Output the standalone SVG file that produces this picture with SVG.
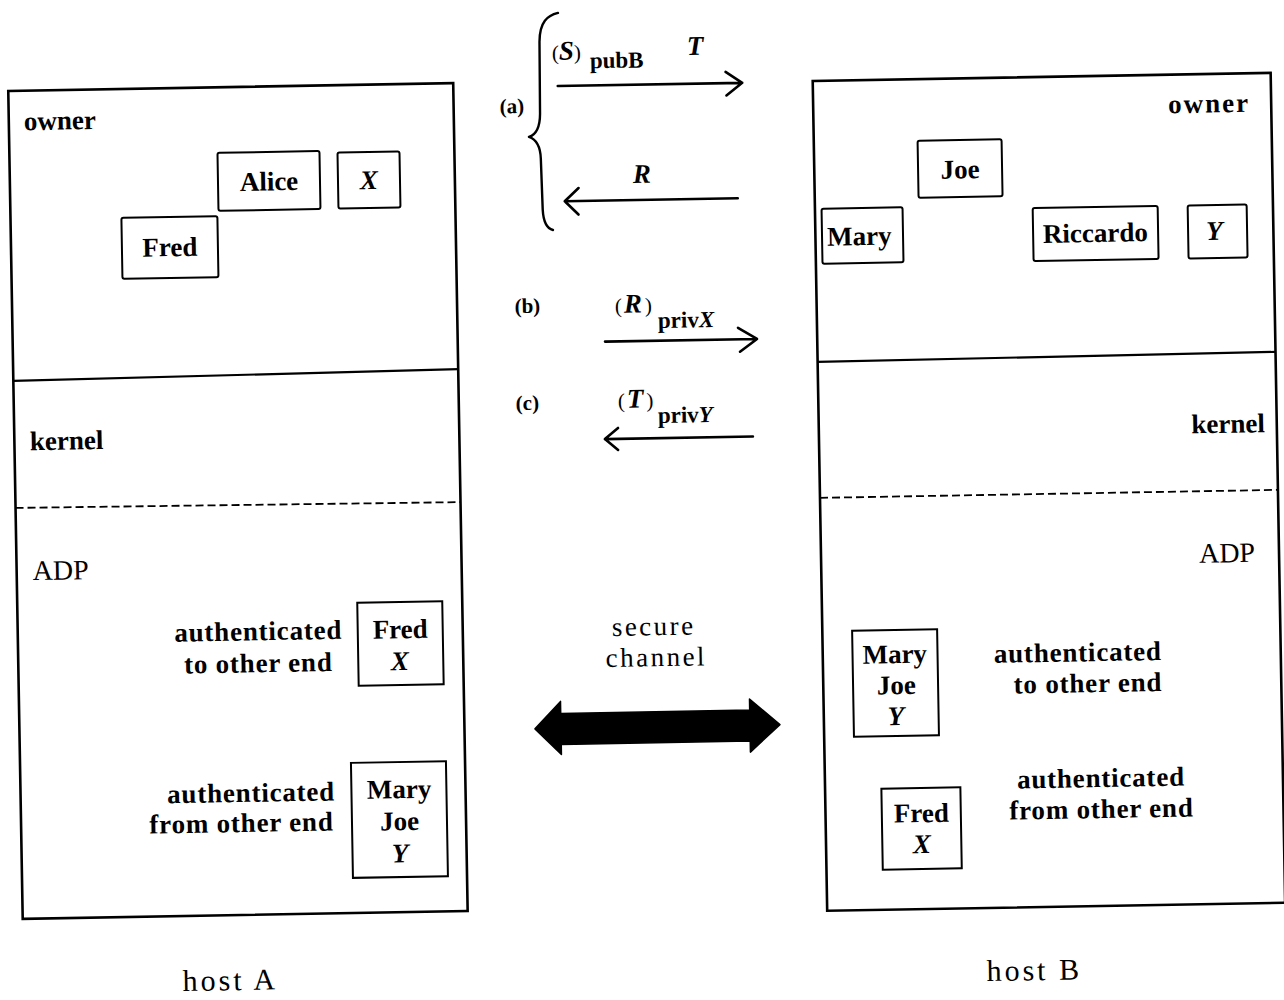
<svg xmlns="http://www.w3.org/2000/svg" width="1284" height="1000" viewBox="0 0 1284 1000">
<style>
.host{fill:none;stroke:#000;stroke-width:2.6}
.div{fill:none;stroke:#000;stroke-width:2.2}
.dash{fill:none;stroke:#000;stroke-width:1.8;stroke-dasharray:8 4}
.box{fill:none;stroke:#000;stroke-width:2}
.conn{fill:none;stroke:#000;stroke-width:2.6;stroke-linecap:round;stroke-linejoin:round}
text{font-family:"Liberation Serif","Times New Roman",serif;fill:#000}
.b{font-weight:bold;font-size:27px}
.r{font-size:28px}
.i{font-weight:bold;font-style:italic;font-size:27px}
.lbl{font-weight:bold;font-size:27px;letter-spacing:0.8px}
.sub{font-weight:bold;font-size:23px}
.par{font-size:21px}
.big{font-size:27px;letter-spacing:2.5px}
.host-lbl{font-size:30px;letter-spacing:3px}
.m{text-anchor:middle}
.e{text-anchor:end}
</style>
<rect x="0" y="0" width="1284" height="1000" fill="#fff"/>
<g transform="rotate(-1 640 500)">
  <g id="hostA">
    <rect class="host" x="15.5" y="80" width="445" height="828"/>
    <path class="div" d="M15.5 370 L460.5 366"/>
    <path class="dash" d="M15.5 497 L460.5 499"/>
    <text class="b" x="30.5" y="119.5">owner</text>
    <text class="b" x="31" y="439.5">kernel</text>
    <text class="r" x="31.5" y="569.5">ADP</text>
    <text class="host-lbl m" x="222" y="983">host A</text>
  </g>
  <g id="hostB">
    <rect class="host" x="820" y="84" width="458" height="830"/>
    <path class="div" d="M820 365 L1278 363"/>
    <path class="dash" d="M820 501 L1278 501"/>
    <text class="b e" x="1257" y="122.5" style="letter-spacing:2px">owner</text>
    <text class="b e" x="1266" y="443">kernel</text>
    <text class="r e" x="1254" y="572.5">ADP</text>
    <text class="host-lbl m" x="1026" y="987">host B</text>
  </g>
  <g id="A-alice">
    <rect class="box" x="223.6" y="145.5" width="102" height="58" rx="2"/>
    <text class="b m" x="274.6" y="184">Alice</text>
  </g>
  <g id="A-X">
    <rect class="box" x="343.6" y="147.3" width="62" height="56" rx="2"/>
    <text class="i m" x="374.6" y="184.5">X</text>
  </g>
  <g id="A-fred">
    <rect class="box" x="126.4" y="208.8" width="96" height="61" rx="2"/>
    <text class="b m" x="174.4" y="248">Fred</text>
  </g>
  <g id="B-joe">
    <rect class="box" x="923.8" y="145.6" width="84" height="57" rx="2"/>
    <text class="b m" x="965.8" y="184">Joe</text>
  </g>
  <g id="B-mary">
    <rect class="box" x="826.6" y="211.9" width="81" height="55" rx="2"/>
    <text class="b m" x="864" y="249">Mary</text>
  </g>
  <g id="B-riccardo">
    <rect class="box" x="1037.7" y="215" width="125" height="53" rx="2"/>
    <text class="b m" x="1100" y="250">Riccardo</text>
  </g>
  <g id="B-Y">
    <rect class="box" x="1192.7" y="215.1" width="59" height="53" rx="2"/>
    <text class="i m" x="1219" y="250">Y</text>
  </g>
  <g id="A-auth-to">
    <text class="lbl m" x="256" y="633.5">authenticated</text>
    <text class="lbl m" x="255.5" y="665.5">to other end</text>
    <rect class="box" x="355.5" y="597.8" width="85" height="83"/>
    <text class="b m" x="398" y="634">Fred</text>
    <text class="i m" x="397" y="666">X</text>
  </g>
  <g id="A-auth-from">
    <text class="lbl e" x="330" y="795">authenticated</text>
    <text class="lbl e" x="328" y="825">from other end</text>
    <rect class="box" x="346.4" y="757.8" width="95" height="115"/>
    <text class="b m" x="394" y="794">Mary</text>
    <text class="b m" x="394" y="826">Joe</text>
    <text class="i m" x="394" y="858">Y</text>
  </g>
  <g id="B-auth-to">
    <rect class="box" x="849.8" y="634.5" width="85" height="106"/>
    <text class="b m" x="892" y="667.5">Mary</text>
    <text class="b m" x="893" y="698.5">Joe</text>
    <text class="i m" x="892" y="729.5">Y</text>
    <text class="lbl e" x="1159" y="669">authenticated</text>
    <text class="lbl e" x="1159" y="700">to other end</text>
  </g>
  <g id="B-auth-from">
    <text class="lbl m" x="1096" y="795">authenticated</text>
    <text class="lbl m" x="1096" y="826">from other end</text>
    <rect class="box" x="876.3" y="792.9" width="79" height="81"/>
    <text class="b m" x="915.8" y="827">Fred</text>
    <text class="i m" x="915.8" y="858">X</text>
  </g>
  <g id="messages">
    <path class="conn" d="M566.5 11.6 C556 14 548 20 547.5 40 L546.8 112 C546.5 127 542 133 535.3 135.1 C542 137.5 546.5 143 546.8 157 L547.8 208 C548.3 222 552 227 557.7 228.5" style="stroke-width:2.4"/>
    <text class="sub m" x="518.8" y="111" style="font-size:21px">(a)</text>
    <text x="559.7" y="58.5"><tspan class="par">(</tspan><tspan class="i" style="font-size:27px">S</tspan><tspan class="par">)</tspan></text>
    <text class="sub" x="597.5" y="67.5">pubB</text>
    <text class="i" x="694.8" y="56">T</text>
    <text class="i" x="638.5" y="183">R</text>
    <text class="sub m" x="530.8" y="311" style="font-size:21px">(b)</text>
    <text x="618.3" y="312.6"><tspan class="par">(</tspan><tspan class="i" dx="2">R</tspan><tspan class="par" dx="3">)</tspan></text>
    <text class="sub" x="661" y="328.3">priv<tspan style="font-style:italic">X</tspan></text>
    <text class="sub m" x="529.1" y="408" style="font-size:21px">(c)</text>
    <text x="619.6" y="407.6"><tspan class="par">(</tspan><tspan class="i" dx="2">T</tspan><tspan class="par" dx="3">)</tspan></text>
    <text class="sub" x="659.3" y="423.3">priv<tspan style="font-style:italic">Y</tspan></text>
    <text class="big m" x="651.5" y="635.5">secure</text>
    <text class="big m" x="653.5" y="666.5">channel</text>
  </g>
  <g id="connectors">
    <path class="conn" d="M565 84.7 L749.5 84.7 M733 73.5 L749.5 84.7 L733.5 97"/>
    <path class="conn" d="M743 200 L570 200 M584 187 L570 200 L583.5 213.5"/>
    <path class="conn" d="M607.8 341 L759.8 341 M741 329.5 L759.8 341 L742.6 353.5"/>
    <path class="conn" d="M754 438.5 L606 438.5 M619.3 427.6 L606 438.5 L619 449.6"/>
    <polygon points="531,727 557,700 557,712 746,712 746,701 776,727 746,754 746,743 557,743 557,753" fill="#000" stroke="#000" stroke-width="1.5" stroke-linejoin="round"/>
  </g>
</g>
</svg>
